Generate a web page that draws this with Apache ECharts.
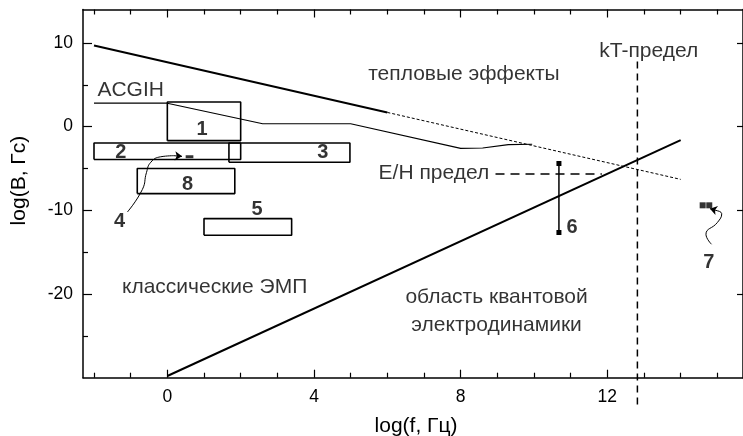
<!DOCTYPE html>
<html>
<head>
<meta charset="utf-8">
<script src="https://cdn.jsdelivr.net/npm/echarts@6/dist/echarts.min.js"></script>
<style>
  html, body { margin: 0; padding: 0; background: #fff; }
  #chart { width: 743px; height: 436px; }
</style>
</head>
<body>
<div id="chart"></div>
<script>
// ticks / labels
var xMajor = [0, 4, 8, 12];
var xMinor = [-2, -1, 1, 2, 3, 5, 6, 7, 9, 10, 11, 13, 14, 15];
var yMajor = [-20, -10, 0, 10];
var yMinor = [-25, -15, -5, 5];

// lines
var thermalSolid = [[-2, 9.7], [6, 1.7]];
var thermalDotted = [[6, 1.7], [14, -6.3]];
var acgih = [[-2, 2.8], [0, 2.8], [2.6, 0.35], [5, 0.35], [8, -2.6], [8.6, -2.55], [9.3, -2.15], [9.95, -2.1]];
var quantum = [[0, -29.8], [14, -1.6]];
var ehLimit = [[8.95, -5.65], [11.85, -5.65]];
var ktLimit = [[12.82, 7.8], [12.82, -33.8]];
var range6 = [[10.68, -4.4], [10.68, -12.65]];
var points7 = [[14.6, -9.4], [14.78, -9.4]];
var item4 = [[0.5, -3.6], [0.71, -3.6]];
var curve4 = [[-1.09, -10.2], [-0.68, -7.5], [-0.57, -5.5], [-0.45, -4.25], [-0.18, -3.6], [0.18, -3.47]];
var curve7 = [[14.84, -14.05], [14.69, -12.86], [15.0, -11.46], [15.12, -10.4], [15.0, -10.05]];

// boxes: x range, y range
var boxNames = ['1', '2', '3', '8', '5'];
var boxX = [[0, 2], [-2, 2], [1.68, 4.98], [-0.82, 1.84], [1.0, 3.39]];
var boxY = [[-1.67, 2.94], [-3.93, -1.95], [-4.25, -1.95], [-8.0, -5.0], [-12.98, -10.99]];

// labels
var numText = ['1', '2', '3', '8', '5', '4', '6', '7'];
var numX = [0.95, -1.27, 4.24, 0.55, 2.45, -1.3, 11.04, 14.77];
var numY = [-0.36, -3.13, -3.1, -6.9, -9.9, -11.3, -12.06, -16.26];
var noteText = ['ACGIH', 'тепловые эффекты', 'kT-предел', 'E/H предел', 'классические ЭМП', 'область квантовой\nэлектродинамики'];
var noteX = [-1.0, 8.09, 13.13, 7.27, 1.29, 8.98];
var noteY = [4.4, 6.3, 8.96, -5.6, -19.2, -22.1];

var font = 'Liberation Sans, Arial, sans-serif';
var myChart = echarts.init(document.getElementById('chart'));

function path(data, width, type, extra) {
  var s = {
    type: 'line', data: data, symbol: 'none', silent: true,
    lineStyle: { color: '#000', width: width, type: type || 'solid' }
  };
  for (var k in extra) s[k] = extra[k];
  return s;
}

function xAx(pos, ticks, len, showLine, labels) {
  return {
    type: 'value', position: pos, min: -2.3, max: 15.7,
    axisLine: { show: showLine, onZero: false, lineStyle: { color: '#000', width: 1.5 } },
    axisTick: { show: true, inside: true, length: len, customValues: ticks, lineStyle: { color: '#000', width: 1.2 } },
    axisLabel: labels ? { customValues: ticks, fontSize: 17.5, color: '#000', fontFamily: font, margin: 10 } : { show: false },
    splitLine: { show: false }
  };
}

function yAx(pos, ticks, len, showLine, labels) {
  return {
    type: 'value', position: pos, min: -30, max: 14,
    axisLine: { show: showLine, onZero: false, lineStyle: { color: '#000', width: 1.5 } },
    axisTick: { show: true, inside: true, length: len, customValues: ticks, lineStyle: { color: '#000', width: 1.2 } },
    axisLabel: labels ? { customValues: ticks, fontSize: 17.5, color: '#000', fontFamily: font, margin: 10 } : { show: false },
    splitLine: { show: false }
  };
}

var xAxes = [xAx('bottom', xMajor, 8, true, true), xAx('bottom', xMinor, 5, false), xAx('top', xMajor, 8, true), xAx('top', xMinor, 5, false)];
xAxes[0].name = 'log(f, Гц)';
xAxes[0].nameLocation = 'middle';
xAxes[0].nameGap = 38;
xAxes[0].nameTextStyle = { fontSize: 21, color: '#000', fontFamily: font, padding: [0, 0, 0, 6] };

var yAxes = [yAx('left', yMajor, 9, true, true), yAx('left', yMinor, 5, false), yAx('right', yMajor, 6, true)];
yAxes[0].name = 'log(B, Гс)';
yAxes[0].nameLocation = 'middle';
yAxes[0].nameGap = 53;
yAxes[0].nameTextStyle = { fontSize: 21, color: '#000', fontFamily: font, padding: [0, 0, 0, 26] };

var series = [];

boxNames.forEach(function (n, i) {
  var x = boxX[i], y = boxY[i];
  series.push(path([[x[0], y[0]], [x[1], y[0]], [x[1], y[1]], [x[0], y[1]], [x[0], y[0]]], 1.6));
});

series.push(path(thermalSolid, 2));
series.push(path(thermalDotted, 1, [3, 2]));
series.push(path(acgih, 1.2));
series.push(path(quantum, 2));
series.push(path(ehLimit, 1.5, [9, 6]));
series.push(path(ktLimit, 1.5, [7, 5], { clip: false }));
series.push(path(range6, 1.5, 'solid', { symbol: 'rect', symbolSize: 5, showSymbol: true, itemStyle: { color: '#000' } }));
series.push(path(item4, 3, 'solid', { lineStyle: { color: '#333', width: 3 } }));
series.push({
  type: 'scatter', data: points7, symbol: 'rect', symbolSize: 6, silent: true,
  itemStyle: { color: '#000' }
});

function arrowEnd(a, b) {
  return {
    data: [[{ coord: a }, { coord: b }]],
    symbol: ['none', 'arrow'], symbolSize: 7, silent: true, label: { show: false },
    lineStyle: { color: '#000', width: 1, type: 'solid' }
  };
}
series.push(path(curve4, 1, 'solid', { smooth: 0.5, markLine: arrowEnd([0.18, -3.47], [0.4, -3.55]) }));
series.push(path(curve7, 1, 'solid', { smooth: 0.5, clip: false, markLine: arrowEnd([15.0, -10.05], [14.8, -9.8]) }));

series.push({
  type: 'scatter', symbol: 'circle', symbolSize: 1, silent: true, clip: false,
  itemStyle: { color: 'rgba(0,0,0,0)' },
  data: noteText.map(function (t, i) { return { name: t, value: [noteX[i], noteY[i]] }; }),
  label: { show: true, position: 'inside', formatter: '{b}', fontSize: 21, color: '#000', fontFamily: font, lineHeight: 28 }
});
series.push({
  type: 'scatter', symbol: 'circle', symbolSize: 1, silent: true, clip: false,
  itemStyle: { color: 'rgba(0,0,0,0)' },
  data: numText.map(function (t, i) { return { name: t, value: [numX[i], numY[i]] }; }),
  label: { show: true, position: 'inside', formatter: '{b}', fontSize: 20, fontWeight: 'bold', color: '#000', fontFamily: font }
});

var option = {
  animation: false,
  backgroundColor: '#fff',
  grid: { left: 83, right: 0, top: 9.5, bottom: 58.3, outerBoundsMode: 'none' },
  xAxis: xAxes,
  yAxis: yAxes,
  series: series
};

myChart.setOption(option);
</script>
</body>
</html>
